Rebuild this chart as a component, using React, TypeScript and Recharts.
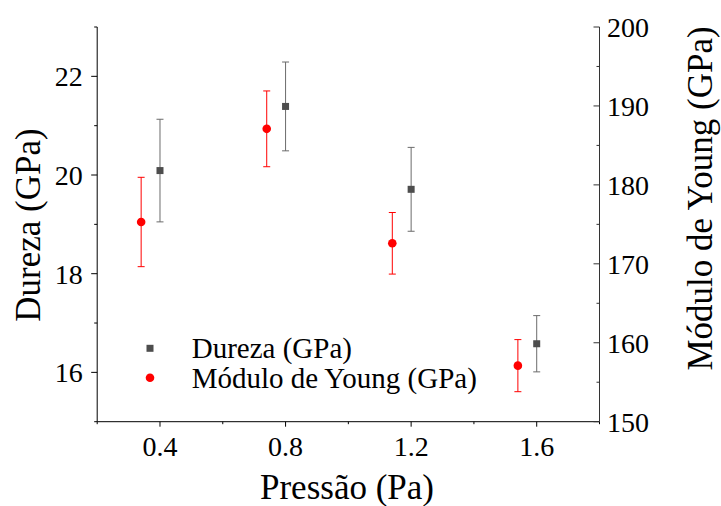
import React from 'react';
import { ScatterChart, Scatter, XAxis, YAxis, ErrorBar, Legend } from 'recharts';

// ---- data ----
const pressaoDureza = [0.4, 0.8, 1.2, 1.6];
const dureza = [20.09, 21.39, 19.71, 16.58];
const durezaErr = [1.04, 0.9, 0.85, 0.57];

const pressaoYoung = [0.34, 0.74, 1.14, 1.54];
const young = [175.3, 187.1, 172.6, 157.1];
const youngErr = [5.66, 4.8, 3.9, 3.3];

const xTicks = [0.2, 0.4, 0.6, 0.8, 1.0, 1.2, 1.4, 1.6, 1.8];
const xMajor = [0.4, 0.8, 1.2, 1.6];
const leftTicks = [15, 16, 17, 18, 19, 20, 21, 22, 23];
const leftMajor = [16, 18, 20, 22];
const rightTicks = [150, 155, 160, 165, 170, 175, 180, 185, 190, 195, 200];
const rightMajor = [150, 160, 170, 180, 190, 200];

const durezaData = pressaoDureza.map((x, i) => ({ x, y: dureza[i], err: durezaErr[i] }));
const youngData = pressaoYoung.map((x, i) => ({ x, y: young[i], err: youngErr[i] }));

const FONT = '"Liberation Serif", "Times New Roman", Times, serif';
const isMajor = (v: number, arr: number[]) => arr.some((m) => Math.abs(m - v) < 1e-6);
const fmtX = (v: number) => v.toFixed(1);

function XTick(props: any) {
  const { x, y, payload } = props;
  const v = payload.value as number;
  const major = isMajor(v, xMajor);
  return (
    <g>
      <line x1={x} x2={x} y1={y} y2={y + (major ? 5 : 2.5)} stroke="#000" strokeWidth={1} />
      {major && (
        <text x={x} y={y + 34.5} textAnchor="middle" fontFamily={FONT} fontSize={28} fill="#000">
          {fmtX(v)}
        </text>
      )}
    </g>
  );
}

function LeftTick(props: any) {
  const { x, y, payload } = props;
  const v = payload.value as number;
  const major = isMajor(v, leftMajor);
  return (
    <g>
      <line x1={x} x2={x - (major ? 6 : 3)} y1={y} y2={y} stroke="#000" strokeWidth={1} />
      {major && (
        <text x={x - 14.5} y={y + 10} textAnchor="end" fontFamily={FONT} fontSize={28} fill="#000">
          {v}
        </text>
      )}
    </g>
  );
}

function RightTick(props: any) {
  const { x, y, payload } = props;
  const v = payload.value as number;
  const major = isMajor(v, rightMajor);
  return (
    <g>
      <line x1={x} x2={x - (major ? 6 : 3)} y1={y} y2={y} stroke="#333" strokeWidth={1} />
      {major && (
        <text x={x + 7.5} y={y + 10} textAnchor="start" fontFamily={FONT} fontSize={28} fill="#000">
          {v}
        </text>
      )}
    </g>
  );
}

function Title(props: any) {
  const { tx, ty, rot, text } = props;
  return (
    <text
      x={tx}
      y={ty}
      transform={rot ? `rotate(${rot} ${tx} ${ty})` : undefined}
      textAnchor="middle"
      fontFamily={FONT}
      fontSize={35}
      fill="#000"
    >
      {text}
    </text>
  );
}

const SquareShape = (p: any) => (
  <rect x={p.cx - 3.5} y={p.cy - 3.5} width={7} height={7} fill="#4d4d4d" />
);
const CircleShape = (p: any) => <circle cx={p.cx} cy={p.cy} r={4.3} fill="#ff0000" />;

function LegendContent() {
  return (
    <svg width={420} height={70} style={{ display: 'block', overflow: 'visible' }}>
      <rect x={20 - 3.5} y={18.3 - 3.5} width={7} height={7} fill="#4d4d4d" />
      <text x={61.7} y={28.3} fontFamily={FONT} fontSize={29} fill="#000">
        Dureza (GPa)
      </text>
      <circle cx={20} cy={47.7} r={4.3} fill="#ff0000" />
      <text x={61.7} y={58.3} fontFamily={FONT} fontSize={29} fill="#000">
        Módulo de Young (GPa)
      </text>
    </svg>
  );
}

export default function App() {
  return (
    <div style={{ position: 'absolute', left: 0, top: 0, width: 721, height: 506, background: '#fff' }}>
      <ScatterChart
        width={721}
        height={506}
        margin={{ top: 27, left: 37.2, right: 61.5, bottom: 44.3 }}
      >
        <XAxis
          type="number"
          dataKey="x"
          domain={[0.2, 1.8]}
          ticks={xTicks}
          interval={0}
          tickSize={0}
          tickMargin={0}
          tickLine={false}
          tick={<XTick />}
          axisLine={{ stroke: '#000', strokeWidth: 1 }}
          height={40}
          allowDataOverflow
          label={<Title tx={347} ty={499} rot={0} text="Pressão (Pa)" />}
        />
        <YAxis
          yAxisId="left"
          orientation="left"
          type="number"
          dataKey="y"
          domain={[15, 23]}
          ticks={leftTicks}
          interval={0}
          tickSize={0}
          tickMargin={0}
          tickLine={false}
          tick={<LeftTick />}
          axisLine={{ stroke: '#000', strokeWidth: 1 }}
          width={60}
          allowDataOverflow
          label={<Title tx={39.5} ty={225} rot={-90} text="Dureza (GPa)" />}
        />
        <YAxis
          yAxisId="right"
          orientation="right"
          type="number"
          dataKey="y"
          domain={[150, 200]}
          ticks={rightTicks}
          interval={0}
          tickSize={0}
          tickMargin={0}
          tickLine={false}
          tick={<RightTick />}
          axisLine={{ stroke: '#333', strokeWidth: 1 }}
          width={60}
          allowDataOverflow
          label={<Title tx={712} ty={198.5} rot={-90} text="Módulo de Young (GPa)" />}
        />
        <Legend
          layout="horizontal"
          verticalAlign="middle"
          align="center"
          content={<LegendContent />}
          wrapperStyle={{ position: 'absolute', left: 130, top: 330, width: 420, height: 70 }}
        />
        <Scatter
          name="Dureza (GPa)"
          data={durezaData}
          yAxisId="left"
          shape={SquareShape}
          isAnimationActive={false}
        >
          <ErrorBar dataKey="err" direction="y" width={3.5} stroke="#6b6b6b" strokeWidth={1} isAnimationActive={false} />
        </Scatter>
        <Scatter
          name="Módulo de Young (GPa)"
          data={youngData}
          yAxisId="right"
          shape={CircleShape}
          isAnimationActive={false}
        >
          <ErrorBar dataKey="err" direction="y" width={3.5} stroke="#ff0000" strokeWidth={1} isAnimationActive={false} />
        </Scatter>
      </ScatterChart>
    </div>
  );
}
